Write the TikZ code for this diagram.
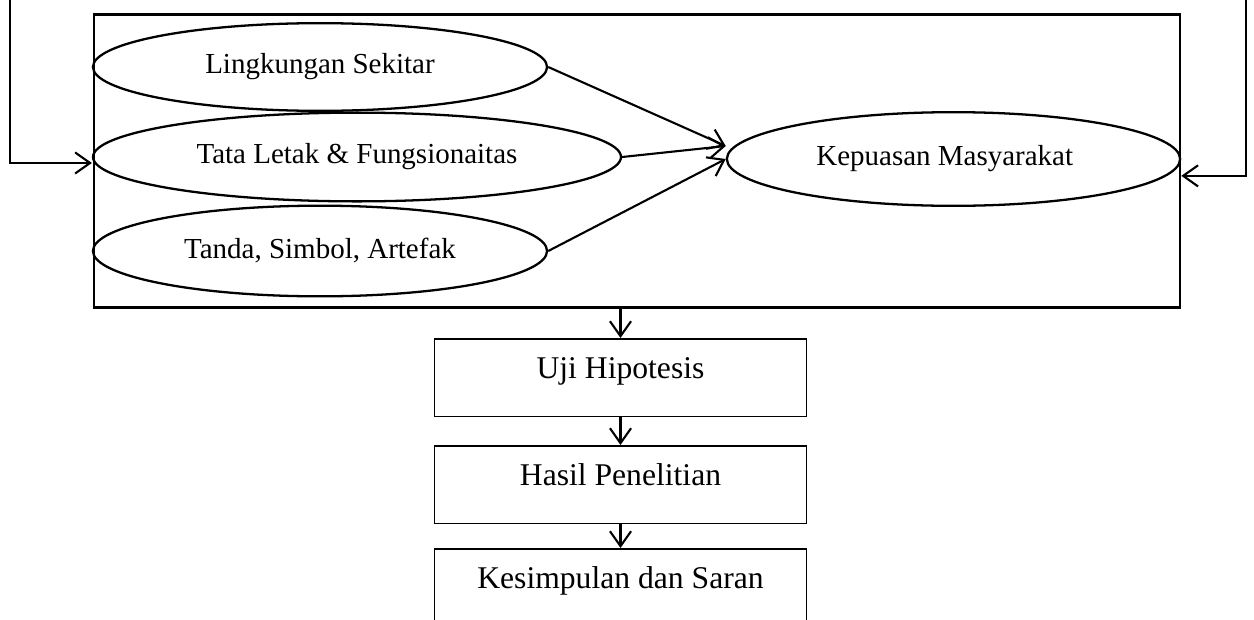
\documentclass[tikz,border=0pt]{standalone}
\usepackage{fontspec}
\setmainfont{Liberation Serif}
\usetikzlibrary{shapes.geometric,arrows.meta}

\begin{document}
\begin{tikzpicture}[x=0.02cm, y=-0.02cm,
    oval/.style={ellipse, draw, line width=1.3pt, inner sep=0pt, font=\fontsize{16.5}{19}\selectfont},
    stage/.style={rectangle, draw, line width=0.9pt, inner sep=0pt, minimum width=211.5pt, text height=22.7pt, text depth=21.5pt, anchor=north, font=\fontsize{18}{21}\selectfont},
    arr/.style={-{Straight Barb[length=8.5pt,width=12pt]}, line width=1.2pt}]
    \clip (0,0) rectangle (1254,619);
    % kerangka variabel
    \node (frame) at (637,161) [draw, line width=1.4pt, inner sep=0pt, minimum width=617.9pt, minimum height=166.7pt] {};
    \node (lingkungan) at (320,67) [oval, minimum width=258.5pt, minimum height=49.9pt] {Lingkungan Sekitar};
    \node (tata) at (357,157) [oval, minimum width=300.5pt, minimum height=50.5pt] {Tata Letak \& Fungsionaitas};
    \node (tanda) at (320,251) [oval, minimum width=258.5pt, minimum height=51.6pt] {Tanda, Simbol, Artefak};
    \node (kepuasan) at (953.5,159) [oval, minimum width=258pt, minimum height=53.3pt] {Kepuasan Masyarakat\hspace*{10pt}};
    \draw[arr] (lingkungan.east) -- ([yshift=7.4pt]kepuasan.west);
    \draw[arr] (tata.east) -- ([yshift=7.4pt]kepuasan.west);
    \draw[arr] (tanda.east) -- (kepuasan.west);
    % umpan balik
    \coordinate (topL) at (10,-10);
    \coordinate (topR) at (1246,-10);
    \draw[arr] (topL) |- ([yshift=-3.4pt]tata.west);
    \draw[arr] (topR) |- ([yshift=-9.6pt]kepuasan.east);
    % tahap akhir
    \node (uji) at (620.5,338) [stage] {Uji Hipotesis};
    \node (hasil) at (620.5,445) [stage] {Hasil Penelitian};
    \node (kesimpulan) at (620.5,548) [stage] {Kesimpulan dan Saran};
    \draw[arr] (frame.south -| uji.north) -- (uji.north);
    \draw[arr] (uji) -- (hasil);
    \draw[arr] (hasil) -- (kesimpulan);
\end{tikzpicture}
\end{document}
